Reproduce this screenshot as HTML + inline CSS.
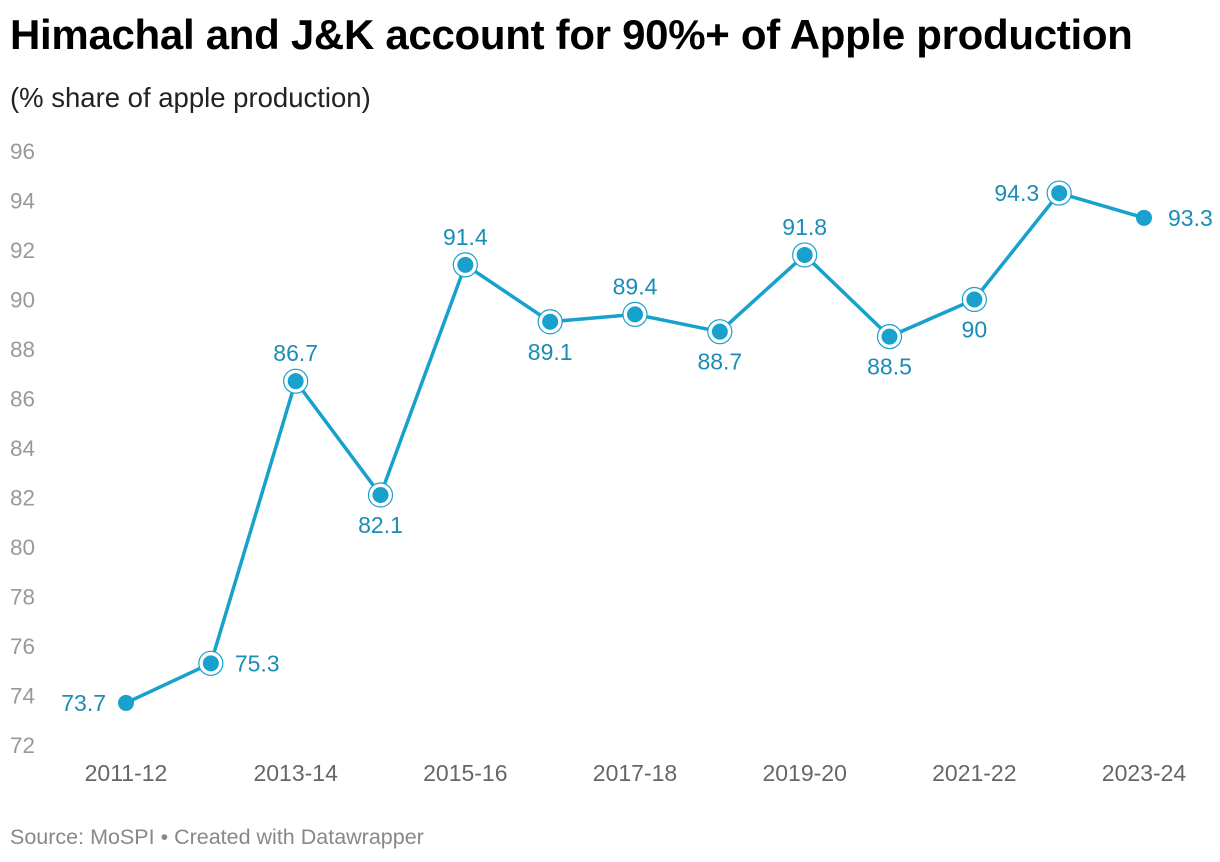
<!DOCTYPE html>
<html><head><meta charset="utf-8"><style>
body{margin:0;background:#fff;width:1220px;height:862px;overflow:hidden;font-family:"Liberation Sans",sans-serif}
#title{position:absolute;left:10px;top:11px;font-size:42px;font-weight:bold;color:#000;letter-spacing:-0.3px}
#sub{position:absolute;left:10px;top:82px;font-size:27.5px;color:#222}
#src{position:absolute;left:10px;top:825px;font-size:21.5px;color:#888}
svg{position:absolute;left:0;top:0}
</style></head><body>
<div id="title">Himachal and J&amp;K account for 90%+ of Apple production</div>
<div id="sub">(% share of apple production)</div>
<svg id="chart" width="1220" height="862"></svg>
<div id="src">Source: MoSPI • Created with Datawrapper</div>
<script>
const categories=["2011-12","2012-13","2013-14","2014-15","2015-16","2016-17","2017-18","2018-19","2019-20","2020-21","2021-22","2022-23","2023-24"];
const values=[73.7,75.3,86.7,82.1,91.4,89.1,89.4,88.7,91.8,88.5,90,94.3,93.3];
const yTicks=[72,74,76,78,80,82,84,86,88,90,92,94,96];
const xTickLabels=["2011-12","2013-14","2015-16","2017-18","2019-20","2021-22","2023-24"];
const labelPos=["left","right","above","below","above","below","above","below","above","below","below","left","right"];
const svg=document.getElementById('chart');const NS="http://www.w3.org/2000/svg";
const x0=126,x1=1144,y0=745,y1=151,ymin=72,ymax=96;
const X=i=>x0+(x1-x0)*i/(categories.length-1);
const Y=v=>y0-(v-ymin)/(ymax-ymin)*(y0-y1);
function mk(t,a){const e=document.createElementNS(NS,t);for(const k in a)e.setAttribute(k,a[k]);svg.appendChild(e);return e;}
yTicks.forEach(t=>{const e=mk('text',{x:10,y:Y(t)+8,'font-size':22.5,fill:'#999'});e.textContent=t;

});
xTickLabels.forEach(l=>{const i=categories.indexOf(l);const e=mk('text',{x:X(i),y:781,'font-size':23,fill:'#666','text-anchor':'middle'});e.textContent=l;

});
const pl=mk('polyline',{points:values.map((v,i)=>X(i)+','+Y(v)).join(' '),fill:'none',stroke:'#18a1cd','stroke-width':3.5,'stroke-linejoin':'round'});


values.forEach((v,i)=>{
 if(i>0&&i<values.length-1){const r=mk('circle',{cx:X(i),cy:Y(v),r:12,fill:'#fff',stroke:'#18a1cd','stroke-width':1.2});
 
 }
 const c=mk('circle',{cx:X(i),cy:Y(v),r:8,fill:'#18a1cd'});
 
 
 const p=labelPos[i];let lx=X(i),ly=Y(v)+8,an='middle';
 if(p==='above')ly=Y(v)-20;else if(p==='below')ly=Y(v)+38;else if(p==='left'){lx=X(i)-20;an='end';}else{lx=X(i)+24;an='start';}
 const t=mk('text',{x:lx,y:ly,'font-size':23,fill:'#1a8cb5','text-anchor':an});t.textContent=v;
 
 
});
</script>
</body></html>
